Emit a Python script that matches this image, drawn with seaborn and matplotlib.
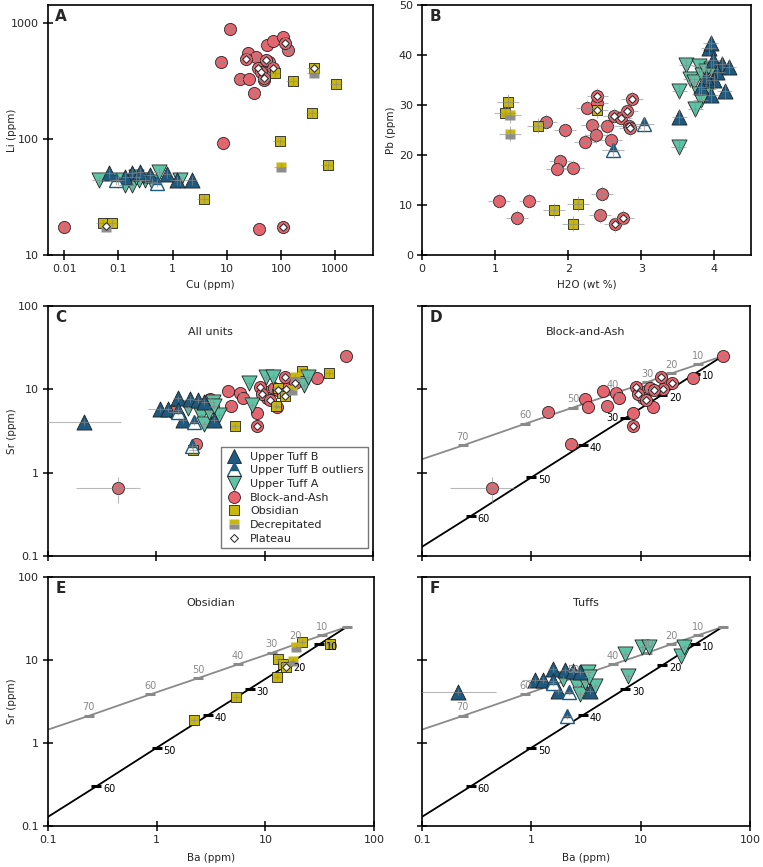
import numpy as np
import pandas as pd
import matplotlib
matplotlib.use("Agg")
import matplotlib.pyplot as plt
import seaborn as sns
from matplotlib.lines import Line2D
from matplotlib.ticker import FixedLocator, FixedFormatter, NullLocator

sns.set_style("ticks")
plt.rcParams["font.family"] = ["DejaVu Sans"]

# ---------------- Panel A : Li vs Cu ----------------
a_utb_cu = [0.067, 0.174, 0.254, 0.78, 1.19, 2.24, 0.13, 0.38]
a_utb_li = [50.6, 51, 52, 49.9, 44, 44, 47.3, 48.9]
a_utbo_cu = [0.089, 0.51]
a_utbo_li = [44, 42]
a_uta_cu = [0.044, 0.10, 0.134, 0.178, 0.236, 0.31, 0.41, 0.57, 1.37, 0.21]
a_uta_li = [44, 44, 40, 40, 44, 44, 43, 52, 44, 47]
a_ba_cu = [0.01, 11.6, 7.9, 8.6, 25, 17.5, 25.7, 32.4, 34.7, 55, 70, 107, 134, 49, 40, 60,
           23, 38, 43, 52.5, 70, 49, 117, 107]
a_ba_li = [17.3, 883, 464, 92, 555, 331, 331, 248, 512, 646, 700, 753, 585, 323, 16.6, 464,
           486, 407, 380, 480, 407, 338, 668, 17.3]
a_obs_cu = [0.052, 0.077, 3.8, 78, 166, 1050, 380, 94, 740, 400]
a_obs_li = [18.8, 18.8, 30.4, 373, 314, 300, 167, 96, 59.7, 407]
a_dec_cu = [0.058, 100, 400]
a_dec_li = [17.4, 57.7, 370]
a_plat_cu = [23, 38, 43, 52.5, 70, 49, 117, 107, 0.058, 400]
a_plat_li = [486, 407, 380, 480, 407, 338, 668, 17.3, 17.8, 407]

# ---------------- Panel B : Pb vs H2O ----------------
b_utb_h2o = [3.92, 3.95, 3.98, 4.10, 4.20, 4.04, 3.99, 3.95, 4.14, 3.52, 3.88, 3.81]
b_utb_pb = [41.5, 42.5, 39.0, 38.3, 37.7, 36.7, 35.0, 32.0, 32.8, 27.7, 35.7, 33.7]
b_utbo_h2o = [2.61, 3.03]
b_utbo_pb = [21.0, 26.2]
b_uta_h2o = [3.61, 3.79, 3.67, 3.72, 3.52, 3.83, 3.95, 3.92, 3.79, 3.81, 3.74, 3.51, 3.88]
b_uta_pb = [38.1, 37.8, 35.2, 34.7, 32.8, 36.0, 37.3, 33.3, 32.3, 31.0, 29.3, 21.7, 36.9]
b_ba_h2o = [1.05, 1.30, 1.47, 1.70, 1.89, 1.85, 2.06, 1.96, 2.23, 2.26, 2.32, 2.38, 2.39, 2.53,
            2.58, 2.46, 2.44, 2.40, 2.62, 2.72, 2.81, 2.87, 2.83, 2.85, 2.64, 2.75]
b_ba_pb = [10.9, 7.5, 10.9, 26.7, 18.8, 17.3, 17.5, 25.0, 22.7, 29.5, 26.0, 24.0, 30.5, 25.8,
           23.1, 12.3, 8.0, 31.9, 27.9, 27.5, 28.9, 31.3, 25.9, 25.4, 6.2, 7.5]
b_obs_h2o = [1.17, 1.14, 1.59, 1.80, 2.13, 2.06, 2.40]
b_obs_pb = [30.7, 28.5, 25.9, 9.0, 10.3, 6.3, 29.0]
b_dec_h2o = [1.21, 1.21]
b_dec_pb = [28.0, 24.3]
b_plat_h2o = [2.40, 2.62, 2.72, 2.81, 2.87, 2.83, 2.85, 2.64, 2.75, 2.40]
b_plat_pb = [31.9, 27.9, 27.5, 28.9, 31.3, 25.9, 25.4, 6.2, 7.5, 29.0]

# ---------------- Panels C-F : Sr vs Ba ----------------
s_utb_ba = [0.214, 1.08, 1.28, 1.58, 2.03, 2.42, 1.58, 1.76, 3.43, 2.78]
s_utb_sr = [4.1, 5.75, 5.75, 7.8, 7.6, 7.45, 5.65, 4.28, 4.28, 7.1]
s_utb_ba_err = [0.26, 0.25, 0.12, 0.15, 0.2, 0.24, 0.15, 0.17, 0.33, 0.27]
s_utbo_ba = [1.57, 2.22, 2.13]
s_utbo_sr = [5.3, 4.08, 2.09]
s_uta_ba = [1.95, 2.59, 2.78, 3.31, 3.81, 3.09, 7.18, 7.7, 10.2, 12.0, 23.3, 25.1, 3.4]
s_uta_sr = [5.9, 4.9, 3.89, 7.1, 4.9, 5.37, 11.8, 6.5, 14.2, 14.2, 11.3, 14.2, 6.3]
s_ba_ba = [56.1, 30.3, 1.42, 3.12, 3.31, 4.54, 4.87, 5.93, 6.31, 8.43, 11.1, 13.0, 12.3, 2.33,
           0.44, 10.5, 9.04, 9.5, 15.5, 19.2, 15.9, 13.2, 11.3, 8.55]
s_ba_sr = [25.4, 13.8, 5.4, 7.66, 6.2, 9.6, 6.37, 8.95, 7.8, 5.15, 9.64, 6.2, 10.3, 2.19,
           0.66, 7.8, 10.8, 8.7, 13.9, 12.0, 10.2, 9.8, 7.45, 3.63]
s_ba_ba_err = [3.0, 2.0, 0.1, 0.2, 0.2, 0.3, 0.3, 0.4, 0.4, 0.5, 0.7, 0.8, 0.8, 0.15,
               0.26, 0.6, 0.6, 0.6, 1.0, 1.2, 1.0, 0.8, 0.7, 0.5]
s_ba_sr_err = [1.5, 0.8, 0.3, 0.4, 0.3, 0.5, 0.3, 0.5, 0.4, 0.3, 0.5, 0.3, 0.5, 0.15,
               0.23, 0.4, 0.5, 0.4, 0.7, 0.6, 0.5, 0.5, 0.4, 0.2]
s_obs_ba = [2.19, 5.36, 12.7, 13.2, 14.5, 15.5, 21.9, 39.4]
s_obs_sr = [1.87, 3.63, 6.3, 10.3, 9.0, 8.3, 16.7, 15.6]
s_dec_ba = [17.8, 19.1]
s_dec_sr = [9.8, 14.2]
s_plat_ba = [9.04, 9.5, 15.5, 19.2, 15.9, 13.2, 11.3, 8.55, 15.5]
s_plat_sr = [10.8, 8.7, 13.9, 12.0, 10.2, 9.8, 7.45, 3.63, 8.3]

# model curves
mix_gray_ba = [0.1, 0.236, 0.877, 2.41, 5.6, 11.5, 19.0, 33.5, 57.0]
mix_gray_sr = [1.45, 2.12, 3.86, 6.05, 8.85, 12.2, 15.5, 19.9, 25.2]
mix_gray_lab = ["", "70", "60", "50", "40", "30", "20", "10", ""]
mix_black_ba = [0.1, 0.278, 1.0, 2.94, 7.2, 15.7, 31.3, 55.0]
mix_black_sr = [0.129, 0.30, 0.877, 2.15, 4.5, 8.6, 15.4, 24.6]
mix_black_lab = ["", "60", "50", "40", "30", "20", "10", ""]

panel_titles = ["All units", "Block-and-Ash", "Obsidian", "Tuffs"]
legend_labels = ["Upper Tuff B", "Upper Tuff B outliers", "Upper Tuff A", "Block-and-Ash",
                 "Obsidian", "Decrepitated", "Plateau"]

# ---------------- style ----------------
C_UTB = "#1e5a80"
C_UTA = "#5fc4a6"
C_BA = "#e8646f"
C_OBS = "#c8b70c"
C_DEC = "#8e8e8e"
EDGE = "#222222"
ERRC = "#8a8a8a"
S_TRI, S_CIR, S_SQ, S_DIA = 118, 76, 62, 15

W, H = 763, 867
fig = plt.figure(figsize=(W / 100, H / 100), dpi=100)


def add_ax(l, r, t, b):
    return fig.add_axes([l / W, 1 - b / H, (r - l) / W, (b - t) / H])


axA = add_ax(48, 373, 5, 255)
axB = add_ax(422, 751, 5, 255)
axC = add_ax(48, 373, 306, 556)
axD = add_ax(422, 750, 306, 556)
axE = add_ax(48, 374, 577, 826)
axF = add_ax(422, 750, 577, 826)


def errb(ax, x, y, xerr, yerr):
    ax.errorbar(x, y, xerr=xerr, yerr=yerr, fmt="none", ecolor=ERRC, elinewidth=0.8,
                alpha=0.6, capsize=0, zorder=4)


def sc(ax, x, y, marker, s, color, edge=EDGE, lw=0.6, z=3):
    sns.scatterplot(x=np.asarray(x, float), y=np.asarray(y, float), marker=marker, s=s,
                    color=color, edgecolor=edge, linewidth=lw, ax=ax, zorder=z, legend=False)


def outl(ax, x, y):
    ax.plot(x, y, linestyle="none", marker="^", ms=10.6, fillstyle="top", mfc=C_UTB,
            mfcalt="white", mec=C_UTB, mew=1.0, zorder=3.2)


def decr(ax, x, y):
    ax.plot(x, y, linestyle="none", marker="s", ms=7.8, fillstyle="top", mfc=C_OBS,
            mfcalt=C_DEC, mec="none", zorder=3.1)


def rel(v, r):
    return [abs(t) * r for t in v]


def cst(v, c):
    return [c for _ in v]


def draw_all(ax, d, plat):
    order = ["ba", "obs", "dec", "uta", "utb", "utbo"]
    for g in order:
        if g not in d:
            continue
        x, y, xe, ye = d[g]
        errb(ax, x, y, xe, ye)
        if g == "ba":
            sc(ax, x, y, "o", S_CIR, C_BA)
        elif g == "obs":
            sc(ax, x, y, "s", S_SQ, C_OBS)
        elif g == "dec":
            decr(ax, x, y)
        elif g == "uta":
            sc(ax, x, y, "v", S_TRI, C_UTA)
        elif g == "utb":
            sc(ax, x, y, "^", S_TRI, C_UTB)
        elif g == "utbo":
            outl(ax, x, y)
    if plat is not None:
        sc(ax, plat[0], plat[1], "D", S_DIA, "white", edge=EDGE, lw=0.7, z=5)


# ---- A
dA = {
    "ba": (a_ba_cu, a_ba_li, rel(a_ba_cu, 0.25), rel(a_ba_li, 0.08)),
    "obs": (a_obs_cu, a_obs_li, rel(a_obs_cu, 0.25), rel(a_obs_li, 0.08)),
    "dec": (a_dec_cu, a_dec_li, rel(a_dec_cu, 0.25), rel(a_dec_li, 0.08)),
    "uta": (a_uta_cu, a_uta_li, rel(a_uta_cu, 0.25), rel(a_uta_li, 0.08)),
    "utb": (a_utb_cu, a_utb_li, rel(a_utb_cu, 0.25), rel(a_utb_li, 0.08)),
    "utbo": (a_utbo_cu, a_utbo_li, rel(a_utbo_cu, 0.25), rel(a_utbo_li, 0.08)),
}
axA.set_xscale("log")
axA.set_yscale("log")
draw_all(axA, dA, (a_plat_cu, a_plat_li))

# ---- B
dB = {
    "ba": (b_ba_h2o, b_ba_pb, cst(b_ba_h2o, 0.15), cst(b_ba_pb, 1.5)),
    "obs": (b_obs_h2o, b_obs_pb, cst(b_obs_h2o, 0.15), cst(b_obs_pb, 1.5)),
    "dec": (b_dec_h2o, b_dec_pb, cst(b_dec_h2o, 0.15), cst(b_dec_pb, 1.5)),
    "uta": (b_uta_h2o, b_uta_pb, cst(b_uta_h2o, 0.1), cst(b_uta_pb, 1.5)),
    "utb": (b_utb_h2o, b_utb_pb, cst(b_utb_h2o, 0.1), cst(b_utb_pb, 1.5)),
    "utbo": (b_utbo_h2o, b_utbo_pb, cst(b_utbo_h2o, 0.15), cst(b_utbo_pb, 1.5)),
}
draw_all(axB, dB, (b_plat_h2o, b_plat_pb))

# ---- Sr / Ba groups
g_ba = (s_ba_ba, s_ba_sr, s_ba_ba_err, s_ba_sr_err)
g_obs = (s_obs_ba, s_obs_sr, rel(s_obs_ba, 0.08), rel(s_obs_sr, 0.08))
g_dec = (s_dec_ba, s_dec_sr, rel(s_dec_ba, 0.08), rel(s_dec_sr, 0.08))
g_uta = (s_uta_ba, s_uta_sr, rel(s_uta_ba, 0.08), rel(s_uta_sr, 0.08))
g_utb = (s_utb_ba, s_utb_sr, s_utb_ba_err, rel(s_utb_sr, 0.08))
g_utbo = (s_utbo_ba, s_utbo_sr, rel(s_utbo_ba, 0.08), rel(s_utbo_sr, 0.08))

for ax in (axC, axD, axE, axF):
    ax.set_xscale("log")
    ax.set_yscale("log")

draw_all(axC, {"ba": g_ba, "obs": g_obs, "dec": g_dec, "uta": g_uta, "utb": g_utb,
               "utbo": g_utbo}, (s_plat_ba, s_plat_sr))
draw_all(axD, {"ba": g_ba}, (s_plat_ba[:8], s_plat_sr[:8]))
draw_all(axE, {"obs": g_obs, "dec": g_dec}, (s_plat_ba[8:], s_plat_sr[8:]))
draw_all(axF, {"uta": g_uta, "utb": g_utb, "utbo": g_utbo}, None)


def mixing(ax, left30=False):
    sns.lineplot(x=mix_gray_ba, y=mix_gray_sr, color="#8a8a8a", lw=1.3, ax=ax, sort=False,
                 estimator=None, zorder=2)
    sns.lineplot(x=mix_black_ba, y=mix_black_sr, color="black", lw=1.3, ax=ax, sort=False,
                 estimator=None, zorder=2)
    ax.plot(mix_gray_ba[1:], mix_gray_sr[1:], linestyle="none", marker="_", ms=7, mew=2.2,
            color="#8a8a8a", zorder=2.1)
    ax.plot(mix_black_ba[1:-1], mix_black_sr[1:-1], linestyle="none", marker="_", ms=7,
            mew=2.2, color="black", zorder=2.1)
    for x, y, t in zip(mix_gray_ba, mix_gray_sr, mix_gray_lab):
        if t:
            ax.annotate(t, (x, y), xytext=(0, 2.5), textcoords="offset points",
                        ha="center", va="bottom", fontsize=7, color="#8a8a8a", zorder=6)
    for x, y, t in zip(mix_black_ba, mix_black_sr, mix_black_lab):
        if t:
            if left30 and t == "30":
                ax.annotate(t, (x, y), xytext=(-5, 0), textcoords="offset points",
                            ha="right", va="center", fontsize=7, color="black", zorder=6)
            else:
                ax.annotate(t, (x, y), xytext=(5, -2), textcoords="offset points",
                            ha="left", va="center", fontsize=7, color="black", zorder=6)


mixing(axD, left30=True)
mixing(axE)
mixing(axF)


# ---------------- axes formatting ----------------
def fmt(ax, xt, xl, yt, yl, xlim, ylim, showx=True, showy=True):
    ax.set_xlim(*xlim)
    ax.set_ylim(*ylim)
    ax.xaxis.set_major_locator(FixedLocator(xt))
    ax.xaxis.set_major_formatter(FixedFormatter(xl))
    ax.yaxis.set_major_locator(FixedLocator(yt))
    ax.yaxis.set_major_formatter(FixedFormatter(yl))
    ax.xaxis.set_minor_locator(NullLocator())
    ax.yaxis.set_minor_locator(NullLocator())
    ax.tick_params(direction="inout", length=7, width=1.1, labelsize=8, color="black",
                   top=False, right=False, labelbottom=showx, labelleft=showy, pad=3)
    for sp in ax.spines.values():
        sp.set_linewidth(1.2)
        sp.set_color("black")
    ax.set_xlabel("")
    ax.set_ylabel("")


dec4 = [0.1, 1, 10, 100]
dec4l = ["0.1", "1", "10", "100"]
fmt(axA, [0.01, 0.1, 1, 10, 100, 1000], ["0.01", "0.1", "1", "10", "100", "1000"],
    [10, 100, 1000], ["10", "100", "1000"], (0.005, 5000), (10, 1430))
fmt(axB, [0, 1, 2, 3, 4], ["0", "1", "2", "3", "4"], [0, 10, 20, 30, 40, 50],
    ["0", "10", "20", "30", "40", "50"], (0, 4.5), (0, 50))
fmt(axC, dec4, dec4l, dec4, dec4l, (0.1, 100), (0.1, 100), showx=False)
fmt(axD, dec4, dec4l, dec4, dec4l, (0.1, 100), (0.1, 100), showx=False, showy=False)
fmt(axE, dec4, dec4l, dec4, dec4l, (0.1, 100), (0.1, 100))
fmt(axF, dec4, dec4l, dec4, dec4l, (0.1, 100), (0.1, 100), showy=False)

lab_kw = dict(fontsize=7.5)
axA.set_xlabel("Cu (ppm)", labelpad=4, **lab_kw)
axA.set_ylabel("Li (ppm)", **lab_kw)
axB.set_xlabel("H2O (wt %)", labelpad=4, **lab_kw)
axB.set_ylabel("Pb (ppm)", **lab_kw)
axC.set_ylabel("Sr (ppm)", **lab_kw)
axE.set_ylabel("Sr (ppm)", **lab_kw)
axE.set_xlabel("Ba (ppm)", labelpad=6, **lab_kw)
axF.set_xlabel("Ba (ppm)", labelpad=6, **lab_kw)
axA.yaxis.set_label_coords(-0.095, 0.5)
axC.yaxis.set_label_coords(-0.095, 0.5)
axE.yaxis.set_label_coords(-0.095, 0.5)
axB.yaxis.set_label_coords(-0.08, 0.5)

for ax, letter in zip((axA, axB, axC, axD, axE, axF), "ABCDEF"):
    ax.text(0.022, 0.985, letter, transform=ax.transAxes, ha="left", va="top",
            fontsize=11, fontweight="bold", zorder=10)

for ax, t in zip((axC, axD, axE, axF), panel_titles):
    ax.text(0.5, 0.895, t, transform=ax.transAxes, ha="center", va="center", fontsize=8)

# legend in C
handles = [
    Line2D([], [], linestyle="none", marker="^", ms=10.6, mfc=C_UTB, mec=EDGE, mew=0.6),
    Line2D([], [], linestyle="none", marker="^", ms=10.6, fillstyle="top", mfc=C_UTB,
           mfcalt="white", mec=C_UTB, mew=1.0),
    Line2D([], [], linestyle="none", marker="v", ms=10.6, mfc=C_UTA, mec=EDGE, mew=0.6),
    Line2D([], [], linestyle="none", marker="o", ms=8.6, mfc=C_BA, mec=EDGE, mew=0.6),
    Line2D([], [], linestyle="none", marker="s", ms=7.8, mfc=C_OBS, mec=EDGE, mew=0.6),
    Line2D([], [], linestyle="none", marker="s", ms=7.8, fillstyle="top", mfc=C_OBS,
           mfcalt=C_DEC, mec="none"),
    Line2D([], [], linestyle="none", marker="D", ms=4.2, mfc="white", mec=EDGE, mew=0.7),
]
leg = axC.legend(handles, legend_labels, loc="lower right", bbox_to_anchor=(0.985, 0.032),
                 borderaxespad=0, fontsize=8, frameon=True, fancybox=False,
                 labelspacing=0.33, handletextpad=0.6, handlelength=1.6, borderpad=0.4)
leg.get_frame().set_edgecolor("#555555")
leg.get_frame().set_linewidth(1.0)
leg.set_zorder(20)

fig.savefig("out.png", dpi=100)
